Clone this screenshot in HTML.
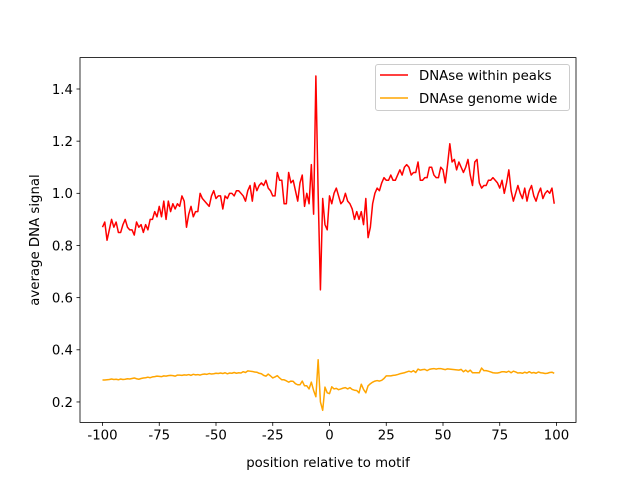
<!DOCTYPE html>
<html><head><meta charset="utf-8"><style>
body{margin:0;background:#fff}
svg{font-family:"DejaVu Sans","Liberation Sans",sans-serif}
</style></head><body>
<svg id="chart" width="640" height="480">
<rect x="0" y="0" width="640" height="480" fill="#fff"/>
<g id="plot"></g>
</svg>
<script>
const redVals=[0.87,0.89,0.82,0.86,0.90,0.87,0.89,0.85,0.85,0.88,
0.90,0.87,0.86,0.86,0.84,0.89,0.87,0.88,0.85,0.88,
0.86,0.90,0.90,0.93,0.91,0.95,0.91,0.97,0.90,0.97,
0.93,0.96,0.94,0.96,0.95,0.99,0.97,0.87,0.92,0.95,
0.91,0.93,0.93,1.00,0.98,0.97,0.96,0.95,0.99,1.01,
0.98,0.99,0.99,0.94,0.99,0.98,1.00,1.00,0.99,1.01,
1.01,1.00,0.99,0.97,1.01,1.03,0.97,1.04,1.01,1.03,
1.04,1.03,1.05,1.02,1.01,0.99,0.99,1.08,1.05,1.05,
0.96,0.96,1.08,1.04,1.05,1.01,0.97,1.04,1.07,0.95,
1.00,0.96,1.11,0.92,1.45,1.00,0.63,0.98,0.88,0.86,
0.99,0.96,1.00,1.02,0.99,0.96,0.97,1.00,0.97,0.96,
0.94,0.90,0.93,0.90,0.93,0.88,0.98,0.83,0.87,0.96,
1.00,1.02,1.01,1.04,1.06,1.05,1.05,1.07,1.05,1.05,
1.07,1.09,1.07,1.10,1.11,1.10,1.07,1.08,1.08,1.12,
1.05,1.05,1.06,1.06,1.10,1.10,1.07,1.06,1.06,1.10,
1.09,1.04,1.11,1.19,1.12,1.13,1.09,1.12,1.10,1.08,
1.10,1.13,1.07,1.03,1.12,1.13,1.04,1.02,1.03,1.03,
1.05,1.05,1.06,1.05,1.04,1.02,1.05,1.00,1.04,1.09,
1.01,0.97,1.00,1.03,1.00,0.98,1.02,0.97,1.01,1.03,
0.99,0.97,1.00,1.02,0.98,1.00,1.01,1.00,1.02,0.96];
const orangeVals=[.284,.284,.285,.286,.288,.286,.287,.285,.288,.286,
.287,.289,.288,.290,.292,.289,.287,.290,.292,.293,
.295,.293,.296,.297,.299,.298,.297,.300,.299,.301,
.302,.301,.299,.303,.303,.302,.304,.303,.305,.302,
.306,.304,.305,.303,.306,.307,.306,.309,.307,.308,
.310,.309,.311,.309,.312,.308,.311,.310,.313,.310,
.312,.311,.316,.313,.319,.318,.317,.315,.314,.310,
.308,.302,.299,.307,.300,.292,.296,.301,.292,.285,
.285,.281,.276,.280,.279,.270,.266,.266,.280,.262,
.262,.250,.276,.244,.220,.362,.200,.168,.257,.235,
.232,.258,.250,.252,.247,.250,.253,.255,.250,.255,
.248,.245,.244,.235,.268,.248,.235,.262,.270,.276,
.280,.282,.280,.283,.290,.300,.300,.300,.302,.303,
.305,.308,.310,.312,.315,.318,.315,.320,.313,.326,
.322,.324,.325,.320,.325,.327,.328,.326,.328,.328,
.326,.324,.327,.326,.325,.324,.323,.322,.325,.316,
.322,.315,.322,.312,.312,.312,.312,.330,.320,.320,
.318,.315,.312,.311,.311,.313,.316,.316,.314,.318,
.312,.318,.315,.311,.312,.310,.314,.311,.316,.311,
.313,.310,.315,.312,.311,.309,.310,.313,.314,.310];
const xStart=-100;
const xTicks=[-100,-75,-50,-25,0,25,50,75,100];
const yTicks=[0.2,0.4,0.6,0.8,1.0,1.2,1.4];
const seriesNames=["DNAse within peaks","DNAse genome wide"];

const L=80,R=576,T=57.6,B=422.4;
function xs(v){return 102.5+(v+100)*2.27;}
function ys(v){return 89+(1.4-v)*260.8;}
const NS="http://www.w3.org/2000/svg";
const g=document.getElementById('plot');
function mk(tag,attrs,parent){const e=document.createElementNS(NS,tag);for(const k in attrs)e.setAttribute(k,attrs[k]);(parent||g).appendChild(e);return e;}

function drawLine(vals,color,name){
  const pts=vals.map((v,i)=>xs(xStart+i).toFixed(2)+','+ys(v).toFixed(2)).join(' ');
  const p=mk('polyline',{points:pts,fill:'none',stroke:color,'stroke-width':1.5,'stroke-linejoin':'round'});
  
  
}
drawLine(redVals,'#ff0000','series-within-peaks');
drawLine(orangeVals,'#ffa500','series-genome-wide');

const frame=mk('rect',{x:L,y:T,width:R-L,height:B-T,fill:'none',stroke:'#000','stroke-width':0.8});



xTicks.forEach(t=>{
  const x=xs(t);
  mk('line',{x1:x,x2:x,y1:B,y2:B+3.5,stroke:'#000','stroke-width':0.8});
  const tx=mk('text',{x:x,y:B+17,'text-anchor':'middle','font-size':'13.3px',fill:'#000'});
  tx.textContent=t;
  
  
});
yTicks.forEach(t=>{
  const y=ys(t);
  mk('line',{x1:L-3.5,x2:L,y1:y,y2:y,stroke:'#000','stroke-width':0.8});
  const tx=mk('text',{x:L-7,y:y+4.8,'text-anchor':'end','font-size':'13.3px',fill:'#000'});
  tx.textContent=t.toFixed(1);
  
  
});
const xl=mk('text',{x:328,y:467,'text-anchor':'middle','font-size':'13.3px'});
xl.textContent='position relative to motif';


const yl=mk('text',{x:0,y:0,'text-anchor':'middle','font-size':'13.3px',transform:'translate(39,240) rotate(-90)'});
yl.textContent='average DNA signal';



const lg=mk('g',{});


mk('rect',{x:375.5,y:64.5,width:194,height:46,rx:2.5,fill:'#fff','fill-opacity':0.8,stroke:'#ccc','stroke-width':1},lg);
const cols=['#ff0000','#ffa500'];
seriesNames.forEach((n,i)=>{
  const y=75+i*23;
  const e=mk('g',{},lg);
  
  
  mk('line',{x1:380,x2:408,y1:y,y2:y,stroke:cols[i],'stroke-width':1.5},e);
  const t=mk('text',{x:419,y:y+4.8,'font-size':'13.3px'},e);
  t.textContent=n;
});
</script>
</body></html>
